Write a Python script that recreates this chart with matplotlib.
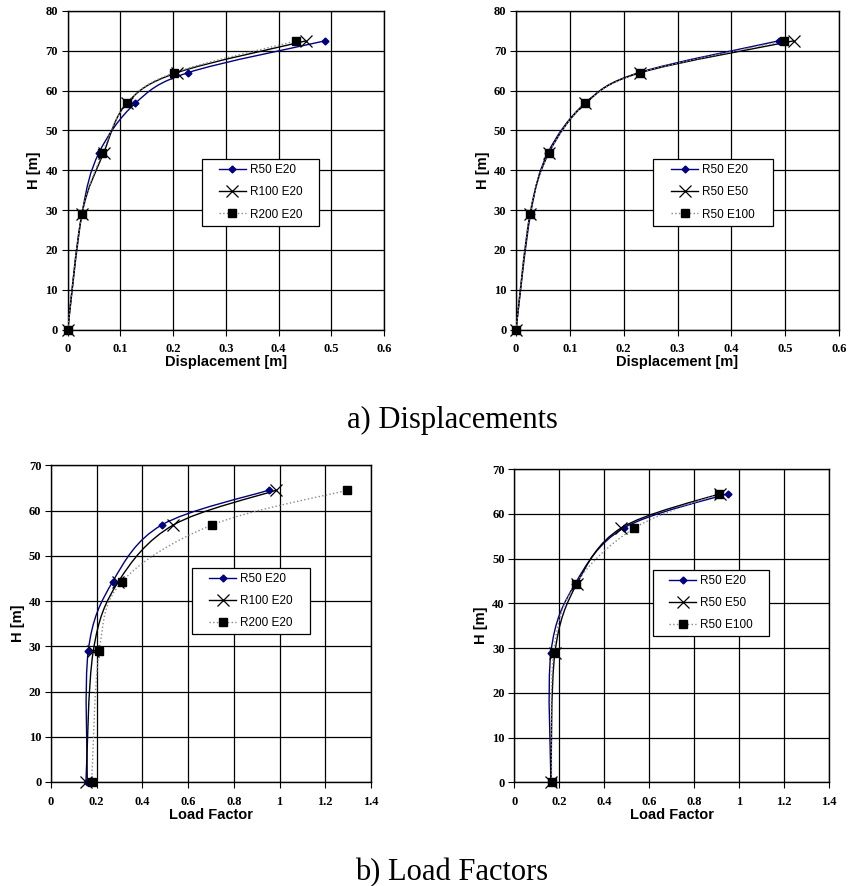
import matplotlib
matplotlib.use("Agg")
import matplotlib.pyplot as plt
from matplotlib.path import Path
from matplotlib.patches import PathPatch, Rectangle
from matplotlib.lines import Line2D
from matplotlib.ticker import FuncFormatter

# heights of the storeys [m]
h_disp = [0, 29, 44.3, 56.8, 64.5, 72.5]
h_load = [0, 29, 44.3, 56.8, 64.5]

# a) displacements, left: varying R
disp_r50_e20 = [0, 0.027, 0.059, 0.128, 0.228, 0.488]
disp_r100_e20 = [0, 0.027, 0.068, 0.112, 0.207, 0.452]
disp_r200_e20 = [0, 0.027, 0.066, 0.112, 0.202, 0.434]
# a) displacements, right: varying E
disp_r50_e50 = [0, 0.026, 0.061, 0.129, 0.231, 0.516]
disp_r50_e100 = [0, 0.026, 0.061, 0.129, 0.231, 0.498]

# b) load factors, left
lf_r50_e20 = [0.159, 0.163, 0.270, 0.484, 0.952]
lf_r100_e20 = [0.153, 0.185, 0.295, 0.535, 0.986]
lf_r200_e20 = [0.178, 0.211, 0.311, 0.704, 1.297]
# b) load factors, right
lf2_r50_e20 = [0.163, 0.163, 0.270, 0.487, 0.952]
lf2_r50_e50 = [0.163, 0.181, 0.278, 0.475, 0.916]
lf2_r50_e100 = [0.166, 0.175, 0.273, 0.535, 0.912]

styles = {
    "blue": dict(color="#000080", lw=1.0, ls="-", marker="D", ms=3.5, mfc="#000080", mec="#000080"),
    "cross": dict(color="black", lw=1.0, ls="-", marker="x", ms=8, mfc="none", mec="black", mew=0.9),
    "square": dict(color="#888888", lw=1.0, ls=":", marker="s", ms=6, mfc="black", mec="black"),
}


def smooth_path(x, y):
    # excel-like smoothed line: cubic bezier through the points
    pts = list(zip(x, y))
    n = len(pts)
    verts = [pts[0]]
    codes = [Path.MOVETO]
    for i in range(n - 1):
        p0 = pts[i - 1] if i > 0 else pts[i]
        p1 = pts[i]
        p2 = pts[i + 1]
        p3 = pts[i + 2] if i + 2 < n else pts[i + 1]
        c1 = (p1[0] + (p2[0] - p0[0]) / 6, p1[1] + (p2[1] - p0[1]) / 6)
        c2 = (p2[0] - (p3[0] - p1[0]) / 6, p2[1] - (p3[1] - p1[1]) / 6)
        verts += [c1, c2, p2]
        codes += [Path.CURVE4] * 3
    return Path(verts, codes)


def draw(ax, x, y, st):
    s = styles[st]
    ax.add_patch(PathPatch(smooth_path(x, y), fill=False, edgecolor=s["color"],
                           lw=s["lw"], ls=s["ls"], zorder=3))
    ax.plot(x, y, ls="none", marker=s["marker"], ms=s["ms"], mfc=s["mfc"],
            mec=s["mec"], mew=s.get("mew", 1.0), zorder=4, clip_on=False)
    return Line2D([], [], **s)


def setup(ax, xmax, ymax, xstep, xlabel):
    ax.set_xlim(0, xmax)
    ax.set_ylim(0, ymax)
    ax.set_xticks([i * xstep for i in range(int(round(xmax / xstep)) + 1)])
    ax.set_yticks(range(0, ymax + 1, 10))
    ax.grid(True, color="black", lw=0.9)
    ax.set_axisbelow(True)
    ax.tick_params(direction="out", length=4, width=0.8)
    ax.tick_params(axis="x", pad=6)
    ax.tick_params(axis="y", pad=3)
    ax.xaxis.set_major_formatter(FuncFormatter(lambda v, p: "%g" % round(v, 2)))
    for lab in ax.get_xticklabels() + ax.get_yticklabels():
        lab.set_fontfamily("Liberation Serif")
        lab.set_fontweight("bold")
        lab.set_fontsize(9)
    ax.set_xlabel(xlabel, fontfamily="Liberation Sans", fontweight="bold", fontsize=10.5, labelpad=0)
    ax.set_ylabel("H [m]", fontfamily="Liberation Sans", fontweight="bold", fontsize=10.5, labelpad=3)
    for sp in ax.spines.values():
        sp.set_color("black")
        sp.set_linewidth(1.0)


fig = plt.figure(figsize=(8.5, 8.86), dpi=100)
W, H = 850, 886


def add_axes(l, t, r, b):
    return fig.add_axes([l / W, 1 - b / H, (r - l) / W, (b - t) / H])


def legend(ax, handles, labels, l, t, r, b):
    box = Rectangle((l / W, 1 - b / H), (r - l) / W, (b - t) / H, transform=fig.transFigure,
                    facecolor="white", edgecolor="black", lw=0.9, zorder=4.8, clip_on=False)
    ax.add_patch(box)
    lg = ax.legend(handles, labels, loc="center",
                   bbox_to_anchor=((l + r) / 2 / W, 1 - (t + b) / 2 / H),
                   bbox_transform=fig.transFigure, frameon=False, borderaxespad=0,
                   handlelength=2.3, labelspacing=0.85, borderpad=0, handletextpad=0.3,
                   prop=dict(family="Liberation Sans", size=8.5))
    lg.set_zorder(5)


ax1 = add_axes(67.7, 11, 384, 329.5)
ax2 = add_axes(516, 11, 839, 329.5)
ax3 = add_axes(51, 465.3, 371, 782)
ax4 = add_axes(514.3, 469, 828.7, 782.3)

for ax in (ax1, ax2):
    setup(ax, 0.6, 80, 0.1, "Displacement [m]")
for ax in (ax3, ax4):
    setup(ax, 1.4, 70, 0.2, "Load Factor")

hs = [draw(ax1, disp_r50_e20, h_disp, "blue"),
      draw(ax1, disp_r100_e20, h_disp, "cross"),
      draw(ax1, disp_r200_e20, h_disp, "square")]
legend(ax1, hs, ["R50 E20", "R100 E20", "R200 E20"], 202, 159, 319, 226)

hs = [draw(ax2, disp_r50_e20, h_disp, "blue"),
      draw(ax2, disp_r50_e50, h_disp, "cross"),
      draw(ax2, disp_r50_e100, h_disp, "square")]
legend(ax2, hs, ["R50 E20", "R50 E50", "R50 E100"], 653, 159, 773, 226)

hs = [draw(ax3, lf_r50_e20, h_load, "blue"),
      draw(ax3, lf_r100_e20, h_load, "cross"),
      draw(ax3, lf_r200_e20, h_load, "square")]
legend(ax3, hs, ["R50 E20", "R100 E20", "R200 E20"], 192, 568, 310, 634)

hs = [draw(ax4, lf2_r50_e20, h_load, "blue"),
      draw(ax4, lf2_r50_e50, h_load, "cross"),
      draw(ax4, lf2_r50_e100, h_load, "square")]
legend(ax4, hs, ["R50 E20", "R50 E50", "R50 E100"], 653, 570, 769, 636)

fig.text(452 / W, 1 - 428 / H, "a) Displacements", ha="center", va="baseline",
         fontfamily="Liberation Serif", fontsize=22)
fig.text(452 / W, 1 - 880 / H, "b) Load Factors", ha="center", va="baseline",
         fontfamily="Liberation Serif", fontsize=22)

fig.savefig("out.png", dpi=100)
